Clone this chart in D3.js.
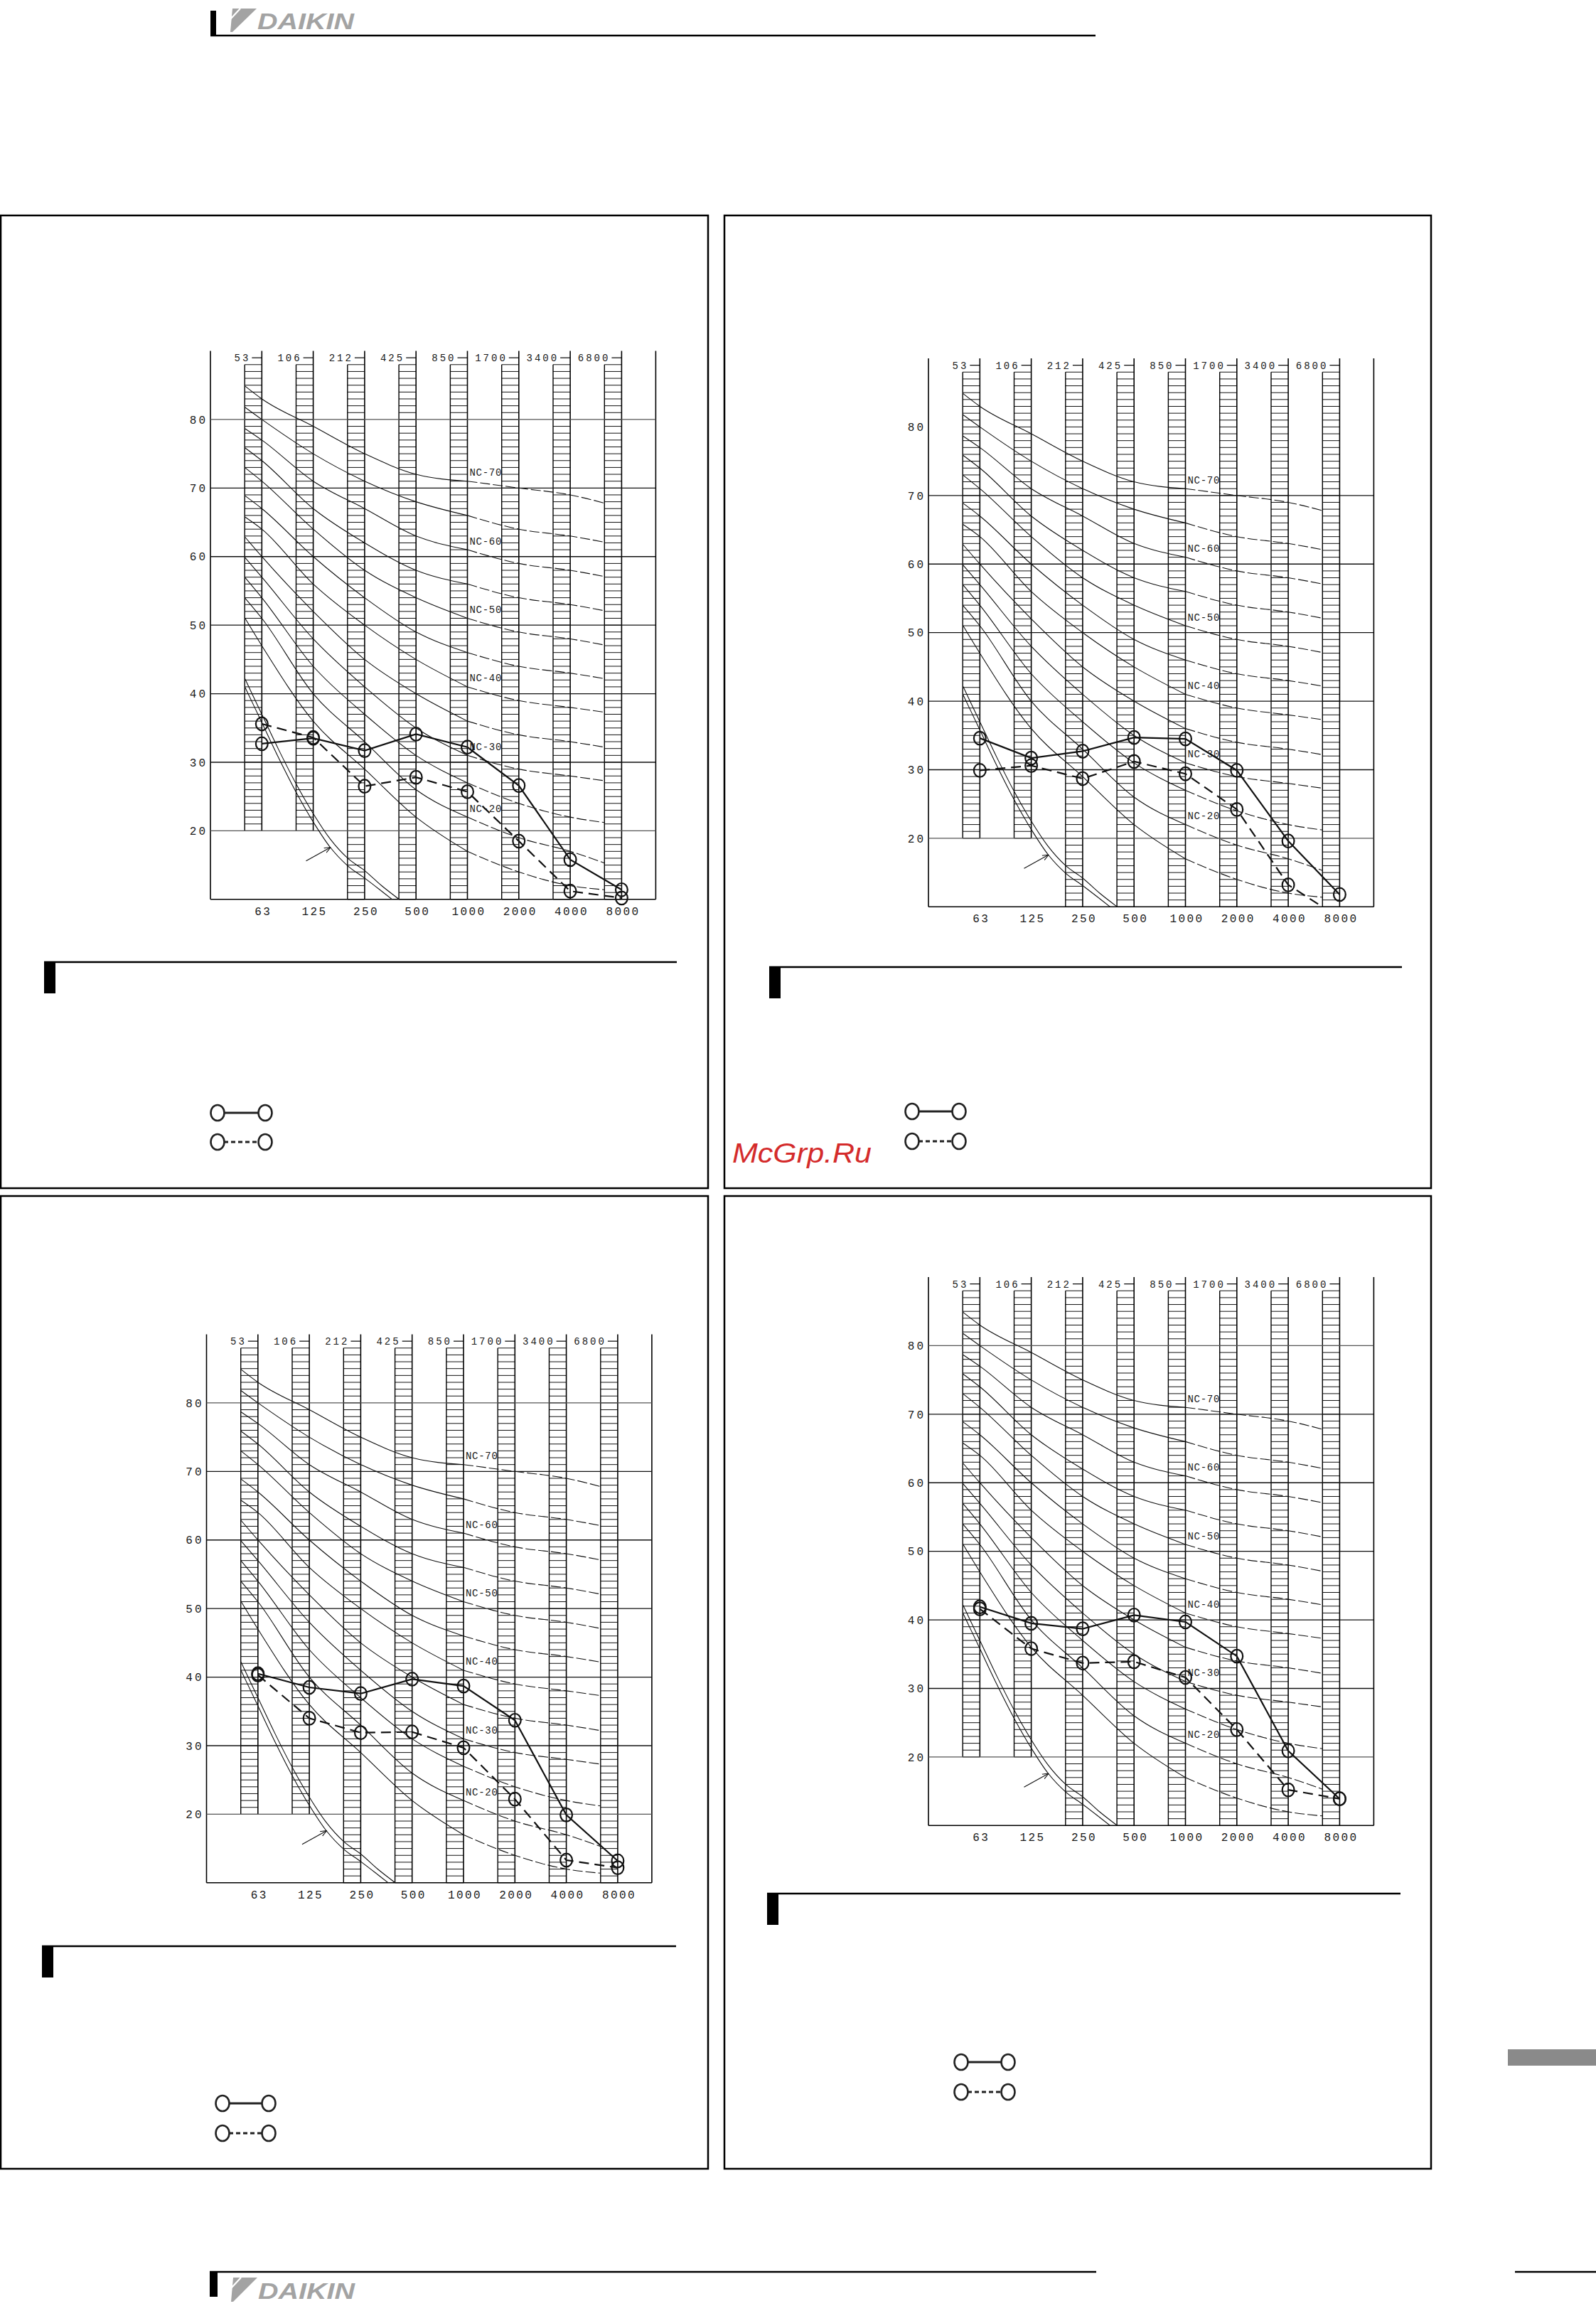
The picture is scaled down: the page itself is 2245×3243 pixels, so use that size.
<!DOCTYPE html>
<html>
<head>
<meta charset="utf-8">
<script src="https://d3js.org/d3.v7.min.js"></script>
<style>
  body { margin: 0; background: #fff; }
  text { font-family: "Liberation Mono", "DejaVu Sans Mono", monospace; fill: #1a1a1a; }
</style>
</head>
<body>
<svg id="page"></svg>
<script>
// octave band centres and the band edge labels on top
const bands = ["63", "125", "250", "500", "1000", "2000", "4000", "8000"];
const bandEdges = ["53", "106", "212", "425", "850", "1700", "3400", "6800"];
const dbTicks = [20, 30, 40, 50, 60, 70, 80];

// NC curves (dB per octave band 63..8000)
const ncNames = ["NC-70", "NC-65", "NC-60", "NC-55", "NC-50", "NC-45", "NC-40", "NC-35", "NC-30", "NC-25", "NC-20", "NC-15"];
const nc70 = [83, 79, 75, 72, 71, 70, 69, 68];
const nc65 = [80, 75, 71, 68, 66, 64, 63, 62];
const nc60 = [77, 71, 67, 63, 61, 59, 58, 57];
const nc55 = [74, 67, 62, 58, 56, 54, 53, 52];
const nc50 = [71, 64, 58, 54, 51, 49, 48, 47];
const nc45 = [67, 60, 54, 49, 46, 44, 43, 42];
const nc40 = [64, 56, 50, 45, 41, 39, 38, 37];
const nc35 = [60, 52, 45, 40, 36, 34, 33, 32];
const nc30 = [57, 48, 41, 35, 31, 29, 28, 27];
const nc25 = [54, 44, 37, 31, 27, 24, 22, 21];
const nc20 = [51, 40, 33, 26, 22, 19, 17, 16];
const nc15 = [47, 36, 29, 22, 17, 14, 12, 11];
// values where each curve starts (left edge of first band) and stops (left edge of last band)
const ncStart = [84.9, 81.8, 78.7, 75.9, 73.0, 68.9, 65.8, 62.9, 59.9, 57.0, 54.0, 51.1];
const ncEnd = [67.8, 62.1, 57.1, 52.1, 47.1, 42.2, 37.3, 32.2, 27.3, 21.2, 15.3, 11.4];
const ncLabelled = ["NC-70", "NC-60", "NC-50", "NC-40", "NC-30", "NC-20"];

// threshold curves (position in octaves from 63 Hz, dB)
const thrPos = [-0.33, 0, 0.33, 0.67, 1, 1.33, 1.67, 2, 2.33, 2.67, 3];
const thrUpper = [42.2, 37.0, 31.8, 26.8, 22.5, 18.8, 16.0, 14.2, 12.0, 10.0, 8.0];
const thrLower = [41.0, 35.8, 30.6, 25.6, 21.3, 17.6, 14.9, 13.1, 11.2, 9.2, 7.2];
const arrowFrom = [0.86, 15.6];
const arrowTo = [1.34, 17.6];

// measured spectra, one pair per chart
const p1Solid  = [32.7, 33.5, 31.7, 34.1, 32.2, 26.6, 15.8, 11.4];
const p1Dashed = [35.6, 33.6, 26.5, 27.8, 25.7, 18.5, 11.2, 10.2];
const p2Solid  = [34.6, 31.7, 32.7, 34.7, 34.5, 29.9, 19.6, 11.8];
const p2Dashed = [29.9, 30.6, 28.7, 31.2, 29.4, 24.2, 13.2, 8.4];
const p3Solid  = [40.5, 38.5, 37.6, 39.7, 38.7, 33.7, 19.9, 13.2];
const p3Dashed = [40.3, 34.0, 31.9, 32.0, 29.7, 22.2, 13.3, 12.2];
const p4Solid  = [41.9, 39.5, 38.7, 40.7, 39.7, 34.7, 20.9, 13.9];
const p4Dashed = [41.6, 35.8, 33.7, 33.9, 31.6, 24.0, 15.2, 13.9];

const ncTable = [nc70, nc65, nc60, nc55, nc50, nc45, nc40, nc35, nc30, nc25, nc20, nc15];

const panels = [
  {box: [1, 303, 996, 1671], L: 296, T: 493.5, cap: [62, 1352, 952], leg: [306, 373, 1565, 1606], grid80: true, solid: p1Solid, dashed: p1Dashed},
  {box: [1019, 303, 2013, 1671], L: 1306, T: 504, cap: [1082, 1359, 1972], leg: [1283, 1349, 1563, 1605], grid80: false, solid: p2Solid, dashed: p2Dashed},
  {box: [1, 1682, 996, 3050], L: 290.5, T: 1876.5, cap: [59, 2736, 951], leg: [313, 378, 2958, 3000], grid80: true, solid: p3Solid, dashed: p3Dashed},
  {box: [1019, 1682, 2013, 3050], L: 1306, T: 1796, cap: [1079, 2662, 1970], leg: [1352, 1418, 2900, 2942], grid80: true, solid: p4Solid, dashed: p4Dashed}
];

const W = 626.4, H = 771.3;
const x = d3.scaleLinear().domain([-1, 7.664]).range([0, W]);
const y = d3.scaleLinear().domain([10, 90]).range([H, 0]);

const svg = d3.select("#page").attr("width", 2245).attr("height", 3243);
const defs = svg.append("defs");
defs.append("marker").attr("id", "arr").attr("viewBox", "0 0 10 10")
  .attr("refX", 10).attr("refY", 5).attr("markerWidth", 9).attr("markerHeight", 9)
  .attr("orient", "auto").attr("markerUnits", "userSpaceOnUse")
  .append("path").attr("d", "M0,1 L10,5 L0,9").attr("fill", "none").attr("stroke", "#111").attr("stroke-width", 1.2);

// header and footer
function logo(x0, top, bottom) {
  const g = svg.append("g");
  g.append("polygon")
    .attr("points", [[x0 + 3, top], [x0 + 37, top], [x0 + 3, bottom], [x0, bottom]].join(" "))
    .attr("fill", "#a3a3a3");
  g.append("line").attr("x1", x0).attr("y1", top + 15).attr("x2", x0 + 14).attr("y2", top)
    .attr("stroke", "#fff").attr("stroke-width", 2.2);
  g.append("text").attr("x", x0 + 38).attr("y", bottom - 4)
    .attr("textLength", 136).attr("lengthAdjust", "spacingAndGlyphs")
    .style("font-family", "'Liberation Sans', Arial, sans-serif").style("font-weight", "bold")
    .style("font-style", "italic").style("font-size", "31px").style("fill", "#a3a3a3")
    .text("DAIKIN");
}
svg.append("rect").attr("x", 296).attr("y", 15).attr("width", 8).attr("height", 36).attr("fill", "#000");
svg.append("line").attr("x1", 296).attr("x2", 1541).attr("y1", 50).attr("y2", 50).attr("stroke", "#000").attr("stroke-width", 2.5);
logo(324, 12, 45);

svg.append("rect").attr("x", 295).attr("y", 3194).attr("width", 11).attr("height", 36).attr("fill", "#000");
svg.append("line").attr("x1", 295).attr("x2", 1542).attr("y1", 3195).attr("y2", 3195).attr("stroke", "#000").attr("stroke-width", 2.5);
svg.append("line").attr("x1", 2131).attr("x2", 2245).attr("y1", 3195).attr("y2", 3195).attr("stroke", "#000").attr("stroke-width", 2.5);
logo(325, 3203, 3237);

svg.append("rect").attr("x", 2121).attr("y", 2882).attr("width", 124).attr("height", 23).attr("fill", "#8a8a8a");

const ncLine = d3.line().x(d => x(d[0])).y(d => y(d[1])).curve(d3.curveMonotoneX);

panels.forEach((p, pi) => {
  const b = p.box;
  svg.append("rect").attr("x", b[0]).attr("y", b[1]).attr("width", b[2] - b[0]).attr("height", b[3] - b[1])
    .attr("fill", "none").attr("stroke", "#000").attr("stroke-width", 2.5);

  // caption bar and rule
  svg.append("rect").attr("x", p.cap[0]).attr("y", p.cap[1]).attr("width", 16).attr("height", 45).attr("fill", "#000");
  svg.append("line").attr("x1", p.cap[0]).attr("x2", p.cap[2]).attr("y1", p.cap[1] + 1).attr("y2", p.cap[1] + 1)
    .attr("stroke", "#000").attr("stroke-width", 2.5);

  // legend symbols
  [[p.leg[2], null], [p.leg[3], "6,4"]].forEach(([ly, dash]) => {
    svg.append("line").attr("x1", p.leg[0] + 9).attr("x2", p.leg[1] - 9).attr("y1", ly).attr("y2", ly)
      .attr("stroke", "#222").attr("stroke-width", 2.8).attr("stroke-dasharray", dash);
    [p.leg[0], p.leg[1]].forEach(cx => svg.append("ellipse").attr("cx", cx).attr("cy", ly)
      .attr("rx", 9.5).attr("ry", 11).attr("fill", "none").attr("stroke", "#222").attr("stroke-width", 2.6));
  });

  const g = svg.append("g").attr("transform", `translate(${p.L},${p.T})`);
  defs.append("clipPath").attr("id", "clip" + pi).append("rect").attr("width", W).attr("height", H);

  // hatched octave bands
  bands.forEach((f, i) => {
    const bottom = i < 2 ? 20 : 10;
    const x0 = x(i - 1 / 3), x1 = x(i);
    g.selectAll(null).data(d3.range(bottom, 89)).enter().append("line")
      .attr("x1", x0).attr("x2", x1).attr("y1", d => y(d)).attr("y2", d => y(d))
      .attr("stroke", "#111").attr("stroke-width", 1);
    g.append("line").attr("x1", x0).attr("x2", x0).attr("y1", y(88)).attr("y2", y(bottom))
      .attr("stroke", "#000").attr("stroke-width", 1.4);
    g.append("line").attr("x1", x1).attr("x2", x1).attr("y1", y(90)).attr("y2", y(bottom))
      .attr("stroke", "#000").attr("stroke-width", 1.6);
    g.append("line").attr("x1", x1 - 14).attr("x2", x1).attr("y1", y(89)).attr("y2", y(89))
      .attr("stroke", "#000").attr("stroke-width", 1.2);
    g.append("text").attr("x", x1 - 16).attr("y", y(89)).attr("dy", "0.36em")
      .attr("text-anchor", "end").style("font-size", "14px").style("letter-spacing", "3px")
      .text(bandEdges[i]);
    g.append("text").attr("x", x1 + 2).attr("y", H + 16).attr("dy", "0.36em")
      .attr("text-anchor", "middle").style("font-size", "16px").style("letter-spacing", "2.4px")
      .text(f);
  });

  // frame and grid
  g.append("line").attr("x1", 0).attr("x2", 0).attr("y1", 0).attr("y2", H).attr("stroke", "#000").attr("stroke-width", 1.6);
  g.append("line").attr("x1", W).attr("x2", W).attr("y1", 0).attr("y2", H).attr("stroke", "#000").attr("stroke-width", 1.6);
  g.append("line").attr("x1", 0).attr("x2", W).attr("y1", H).attr("y2", H).attr("stroke", "#000").attr("stroke-width", 1.6);
  dbTicks.forEach(v => {
    if (v !== 80 || p.grid80) {
      g.append("line").attr("x1", 0).attr("x2", W).attr("y1", y(v)).attr("y2", y(v))
        .attr("stroke", v === 20 || v === 80 ? "#555" : "#111").attr("stroke-width", 1.3);
    }
    g.append("text").attr("x", -4).attr("y", y(v)).attr("dy", "0.36em").attr("text-anchor", "end")
      .style("font-size", "16px").style("letter-spacing", "3px").text(v);
  });

  // NC curves
  ncTable.forEach((vals, k) => {
    const pts = [[-1 / 3, ncStart[k]]].concat(vals.slice(0, 7).map((v, i) => [i, v]), [[7 - 1 / 3, ncEnd[k]]]);
    g.append("path").attr("d", ncLine(pts.slice(0, 6))).attr("fill", "none")
      .attr("stroke", "#111").attr("stroke-width", 1.1);
    g.append("path").attr("d", ncLine(pts.slice(5))).attr("fill", "none")
      .attr("stroke", "#111").attr("stroke-width", 1.1).attr("stroke-dasharray", "14,4");
    if (ncLabelled.includes(ncNames[k])) {
      g.append("text").attr("x", x(4) + 3).attr("y", y(vals[4] + 1.3)).attr("dy", "0.36em")
        .style("font-size", "14px").style("letter-spacing", "0.7px").text(ncNames[k]);
    }
  });

  // threshold curves and arrow
  const cg = g.append("g").attr("clip-path", `url(#clip${pi})`);
  [thrUpper, thrLower].forEach(arr => {
    cg.append("path").attr("d", ncLine(thrPos.map((t, i) => [t, arr[i]]))).attr("fill", "none")
      .attr("stroke", "#111").attr("stroke-width", 1.1);
  });
  g.append("line").attr("x1", x(arrowFrom[0])).attr("y1", y(arrowFrom[1]))
    .attr("x2", x(arrowTo[0])).attr("y2", y(arrowTo[1]))
    .attr("stroke", "#111").attr("stroke-width", 1.1).attr("marker-end", "url(#arr)");

  // measured spectra
  const sLine = d3.line().x((d, i) => x(i)).y(d => y(d));
  cg.append("path").attr("d", sLine(p.solid)).attr("fill", "none").attr("stroke", "#111").attr("stroke-width", 2.2);
  cg.append("path").attr("d", sLine(p.dashed)).attr("fill", "none").attr("stroke", "#111")
    .attr("stroke-width", 2.2).attr("stroke-dasharray", "14,8");
  [p.solid, p.dashed].forEach(s => {
    g.selectAll(null).data(s.map((v, i) => [i, v]).filter(d => d[1] >= 10)).enter().append("ellipse")
      .attr("cx", d => x(d[0])).attr("cy", d => y(d[1])).attr("rx", 8.4).attr("ry", 9.3)
      .attr("fill", "none").attr("stroke", "#111").attr("stroke-width", 2.2);
  });
});

// watermark
svg.append("text").attr("x", 1030).attr("y", 1635).attr("textLength", 196).attr("lengthAdjust", "spacingAndGlyphs")
  .style("font-family", "'Liberation Sans', Arial, sans-serif").style("font-style", "italic")
  .style("font-size", "38px").style("fill", "#d42b2b").text("McGrp.Ru");
</script>
</body>
</html>
